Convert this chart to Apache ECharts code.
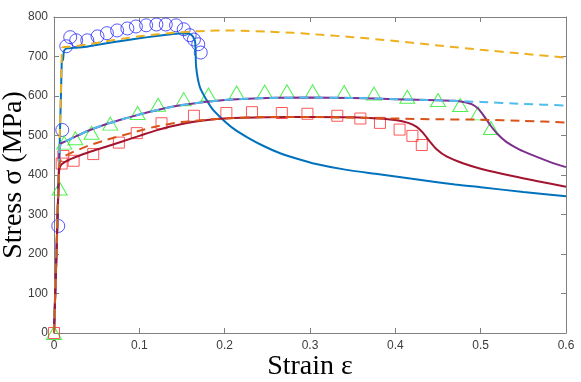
<!DOCTYPE html>
<html>
<head>
<meta charset="utf-8">
<script src="https://cdn.jsdelivr.net/npm/echarts@6/dist/echarts.min.js"></script>
<style>
  html, body { margin: 0; padding: 0; background: #fff; }
  #chart { width: 581px; height: 382px; }
</style>
</head>
<body>
<div id="chart"></div>
<script>
// experiment points (strain, stress MPa)
var expCircles = [
  [0.005, 271], [0.0097, 514], [0.0144, 726], [0.019, 749], [0.026, 741],
  [0.039, 741], [0.051, 751], [0.062, 759], [0.074, 766], [0.086, 771],
  [0.096, 776], [0.108, 779], [0.120, 781], [0.131, 781], [0.143, 779],
  [0.152, 769], [0.159, 754], [0.164, 743], [0.169, 731], [0.172, 710]
]
var expTriangles = [
  [0, 0], [0.0066, 366], [0.012, 482], [0.025, 493], [0.044, 507],
  [0.066, 530], [0.098, 557], [0.122, 578], [0.152, 592], [0.181, 604],
  [0.214, 609], [0.247, 611], [0.273, 612], [0.303, 612], [0.34, 610],
  [0.375, 606], [0.414, 598], [0.45, 590], [0.476, 577], [0.497, 556],
  [0.512, 519]
]
var expSquares = [
  [0, 0], [0.009, 429], [0.011, 448], [0.023, 436], [0.046, 453],
  [0.076, 482], [0.097, 506], [0.126, 531], [0.164, 550], [0.202, 557],
  [0.232, 559], [0.267, 557], [0.297, 555], [0.332, 550], [0.359, 543],
  [0.382, 532], [0.405, 515], [0.42, 499], [0.431, 476]
]

// simulated curves
var blueSolid = [
  [0, 0], [0.003, 210], [0.006, 430], [0.008, 590], [0.009, 680], [0.0095, 700],
  [0.0105, 690], [0.0115, 712], [0.013, 718], [0.016, 721], [0.023, 722],
  [0.035, 724], [0.046, 728], [0.06, 733], [0.081, 740], [0.1, 746],
  [0.12, 752], [0.135, 756], [0.148, 758], [0.156, 758], [0.16, 756],
  [0.163, 750], [0.1655, 735], [0.1666, 673], [0.171, 622], [0.179, 589],
  [0.186, 566], [0.198, 540], [0.21, 518], [0.226, 496], [0.245, 474],
  [0.265, 455], [0.285, 441], [0.303, 430], [0.343, 413], [0.381, 402],
  [0.428, 388], [0.47, 376], [0.5, 369], [0.55, 357], [0.6, 346]
]
var yellowDash = [
  [0, 0], [0.004, 300], [0.007, 520], [0.009, 690], [0.0095, 722], [0.012, 724],
  [0.02, 725], [0.04, 731], [0.06, 738], [0.08, 745], [0.1, 751],
  [0.12, 756], [0.14, 760], [0.16, 763], [0.18, 765], [0.2, 766],
  [0.22, 765], [0.25, 763], [0.28, 760], [0.3, 757], [0.35, 749],
  [0.4, 739], [0.45, 728], [0.5, 717], [0.55, 707], [0.6, 697]
]
var purpleSolid = [
  [0, 0], [0.003, 210], [0.006, 430], [0.0075, 478], [0.012, 484], [0.02, 492],
  [0.04, 512], [0.06, 528], [0.08, 541], [0.1, 553], [0.12, 564],
  [0.15, 577], [0.2, 590], [0.25, 595], [0.3, 596], [0.35, 595],
  [0.4, 592], [0.45, 589], [0.47, 588], [0.48, 585], [0.49, 579],
  [0.497, 568], [0.502, 555], [0.507, 540], [0.512, 524], [0.52, 503],
  [0.53, 484], [0.545, 465], [0.56, 451], [0.58, 434], [0.6, 420]
]
var lightBlueDash = [
  [0, 0], [0.003, 210], [0.006, 430], [0.0075, 478], [0.012, 484], [0.02, 492],
  [0.04, 512], [0.06, 528], [0.08, 541], [0.1, 553], [0.12, 564],
  [0.15, 577], [0.2, 590], [0.25, 595], [0.3, 596], [0.35, 595],
  [0.4, 592], [0.45, 589], [0.5, 585], [0.55, 580], [0.6, 576]
]
var darkRedSolid = [
  [0, 0], [0.003, 205], [0.006, 410], [0.008, 425], [0.012, 432], [0.02, 441],
  [0.04, 457], [0.06, 471], [0.08, 485], [0.1, 499], [0.12, 513],
  [0.15, 529], [0.18, 539], [0.2, 543], [0.25, 546], [0.3, 547],
  [0.35, 546], [0.38, 543], [0.4, 539], [0.415, 532], [0.425, 522],
  [0.432, 508], [0.44, 486], [0.448, 466], [0.46, 447], [0.48, 429],
  [0.5, 416], [0.54, 396], [0.57, 383], [0.6, 370]
]
var orangeDash = [
  [0, 0], [0.003, 205], [0.006, 420], [0.008, 438], [0.012, 447], [0.02, 456],
  [0.04, 474], [0.06, 488], [0.08, 500], [0.1, 512], [0.12, 523],
  [0.15, 534], [0.2, 543], [0.25, 547], [0.3, 547], [0.35, 545],
  [0.4, 543], [0.45, 541], [0.5, 540], [0.55, 537], [0.6, 533]
]

var xTicks = { min: 0, max: 0.6, interval: 0.1 }
var yTicks = { min: 0, max: 800, interval: 100 }

var axisColor = '#808080'
var labelColor = '#3c3c3c'

function lineSeries(data, color, dashed) {
  return {
    type: 'line',
    data: data,
    showSymbol: false,
    symbol: 'none',
    smooth: 0.25,
    lineStyle: { color: color, width: 2, type: dashed ? [9, 6] : 'solid' },
    silent: true
  }
}

function markerSeries(data, symbol, size, color) {
  return {
    type: 'scatter',
    data: data,
    symbol: symbol,
    symbolSize: size,
    itemStyle: { color: 'rgba(0,0,0,0)', borderColor: color, borderWidth: 1 },
    silent: true
  }
}

var myChart = echarts.init(document.getElementById('chart'))
var option = {
  animation: false,
  backgroundColor: '#fff',
  grid: { left: 54, right: 15, top: 17, bottom: 49, outerBoundsMode: 'none', containLabel: false },
  xAxis: [
    {
      type: 'value',
      min: xTicks.min, max: xTicks.max, interval: xTicks.interval,
      position: 'bottom',
      name: 'Strain ε',
      nameLocation: 'middle',
      nameGap: 20,
      nameMoveOverlap: false,
      nameTextStyle: { fontFamily: 'Liberation Serif', fontSize: 28, color: '#000', verticalAlign: 'top' },
      axisLine: { onZero: false, lineStyle: { color: axisColor, width: 1 } },
      axisTick: { inside: true, length: 5, lineStyle: { color: axisColor } },
      axisLabel: { color: labelColor, fontSize: 12, fontFamily: 'Liberation Sans', margin: 7 },
      splitLine: { show: false }
    },
    {
      type: 'value',
      min: xTicks.min, max: xTicks.max, interval: xTicks.interval,
      position: 'top',
      axisLine: { onZero: false, lineStyle: { color: axisColor, width: 1 } },
      axisTick: { inside: true, length: 5, lineStyle: { color: axisColor } },
      axisLabel: { show: false },
      splitLine: { show: false }
    }
  ],
  yAxis: [
    {
      type: 'value',
      min: yTicks.min, max: yTicks.max, interval: yTicks.interval,
      position: 'left',
      name: 'Stress σ (MPa)',
      nameLocation: 'middle',
      nameGap: 26,
      nameMoveOverlap: false,
      nameTextStyle: { fontFamily: 'Liberation Serif', fontSize: 28, color: '#000' },
      axisLine: { show: true, onZero: false, lineStyle: { color: axisColor, width: 1 } },
      axisTick: { show: true, inside: true, length: 5, lineStyle: { color: axisColor } },
      axisLabel: { color: labelColor, fontSize: 12, fontFamily: 'Liberation Sans', margin: 6 },
      splitLine: { show: false }
    },
    {
      type: 'value',
      min: yTicks.min, max: yTicks.max, interval: yTicks.interval,
      position: 'right',
      axisLine: { show: true, onZero: false, lineStyle: { color: axisColor, width: 1 } },
      axisTick: { show: true, inside: true, length: 5, lineStyle: { color: axisColor } },
      axisLabel: { show: false },
      splitLine: { show: false }
    }
  ],
  series: [
    lineSeries(blueSolid, '#0072BD', false),
    lineSeries(purpleSolid, '#7E2F8E', false),
    lineSeries(darkRedSolid, '#A2142F', false),
    lineSeries(yellowDash, '#EDB120', true),
    lineSeries(lightBlueDash, '#4DBEEE', true),
    lineSeries(orangeDash, '#D95319', true),
    markerSeries(expCircles, 'circle', 13, '#2a2aff'),
    markerSeries(expTriangles, 'triangle', [15, 13], '#22ee22'),
    markerSeries(expSquares, 'rect', 11, '#ff3030')
  ]
}
myChart.setOption(option)
</script>
</body>
</html>
